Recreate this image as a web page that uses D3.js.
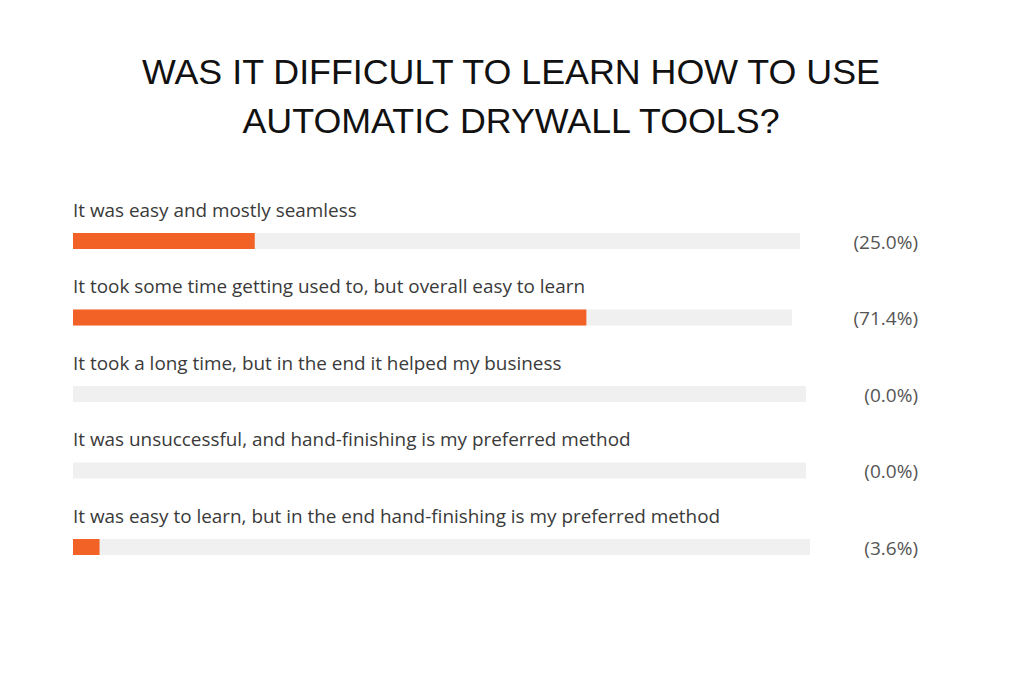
<!DOCTYPE html>
<meta charset="utf-8">
<style>
  body { margin: 0; background: #fff; }
</style>
<script src="https://d3js.org/d3.v7.min.js"></script>
<div id="chart"></div>
<script>
// data
var categories = [
  "It was easy and mostly seamless",
  "It took some time getting used to, but overall easy to learn",
  "It took a long time, but in the end it helped my business",
  "It was unsuccessful, and hand-finishing is my preferred method",
  "It was easy to learn, but in the end hand-finishing is my preferred method"
];
var percents = [25.0, 71.4, 0.0, 0.0, 3.6];
var titleLines = ["WAS IT DIFFICULT TO LEARN HOW TO USE", "AUTOMATIC DRYWALL TOOLS?"];

// layout (each track ends at a slightly different spot in the original)
var W = 1024, H = 683;
var left = 73, rowTop = 233, rowStep = 76.5, barH = 16;
var trackEnd = [800, 792, 806, 806, 810];

var svg = d3.select("#chart").append("svg")
  .attr("width", W).attr("height", H);

svg.selectAll("text.title")
  .data(titleLines)
  .enter().append("text")
  .attr("class", "title")
  .attr("x", W / 2 - 1)
  .attr("y", function(d, i) { return 84 + i * 49; })
  .attr("text-anchor", "middle")
  .style("font-family", "'Liberation Sans', Arial, sans-serif")
  .style("font-size", "35.8px")
  .style("fill", "#111")
  .text(function(d) { return d; });

var y = d3.scaleBand()
  .domain(d3.range(categories.length))
  .range([rowTop, rowTop + rowStep * categories.length]);

var rows = svg.selectAll("g.row")
  .data(categories)
  .enter().append("g")
  .attr("class", "row")
  .attr("transform", function(d, i) { return "translate(0," + y(i) + ")"; });

rows.append("text")
  .attr("x", left)
  .attr("y", -16.5)
  .style("font-family", "'Open Sans', sans-serif")
  .style("font-size", "18.9px")
  .style("fill", "#3a3a3a")
  .text(function(d) { return d; });

rows.append("rect")
  .attr("x", left)
  .attr("y", 0)
  .attr("height", barH)
  .attr("width", function(d, i) { return trackEnd[i] - left; })
  .attr("fill", "#f0f0f0");

rows.append("rect")
  .attr("x", left)
  .attr("y", 0)
  .attr("height", barH)
  .attr("width", function(d, i) {
    var x = d3.scaleLinear().domain([0, 100]).range([left, trackEnd[i]]);
    return x(percents[i]) - left;
  })
  .attr("fill", "#f26125");

rows.append("text")
  .attr("x", 918)
  .attr("y", barH / 2 + 7.5)
  .attr("text-anchor", "end")
  .style("font-family", "'Open Sans', sans-serif")
  .style("font-size", "19px")
  .style("fill", "#555")
  .text(function(d, i) { return "(" + percents[i].toFixed(1) + "%)"; });
</script>
